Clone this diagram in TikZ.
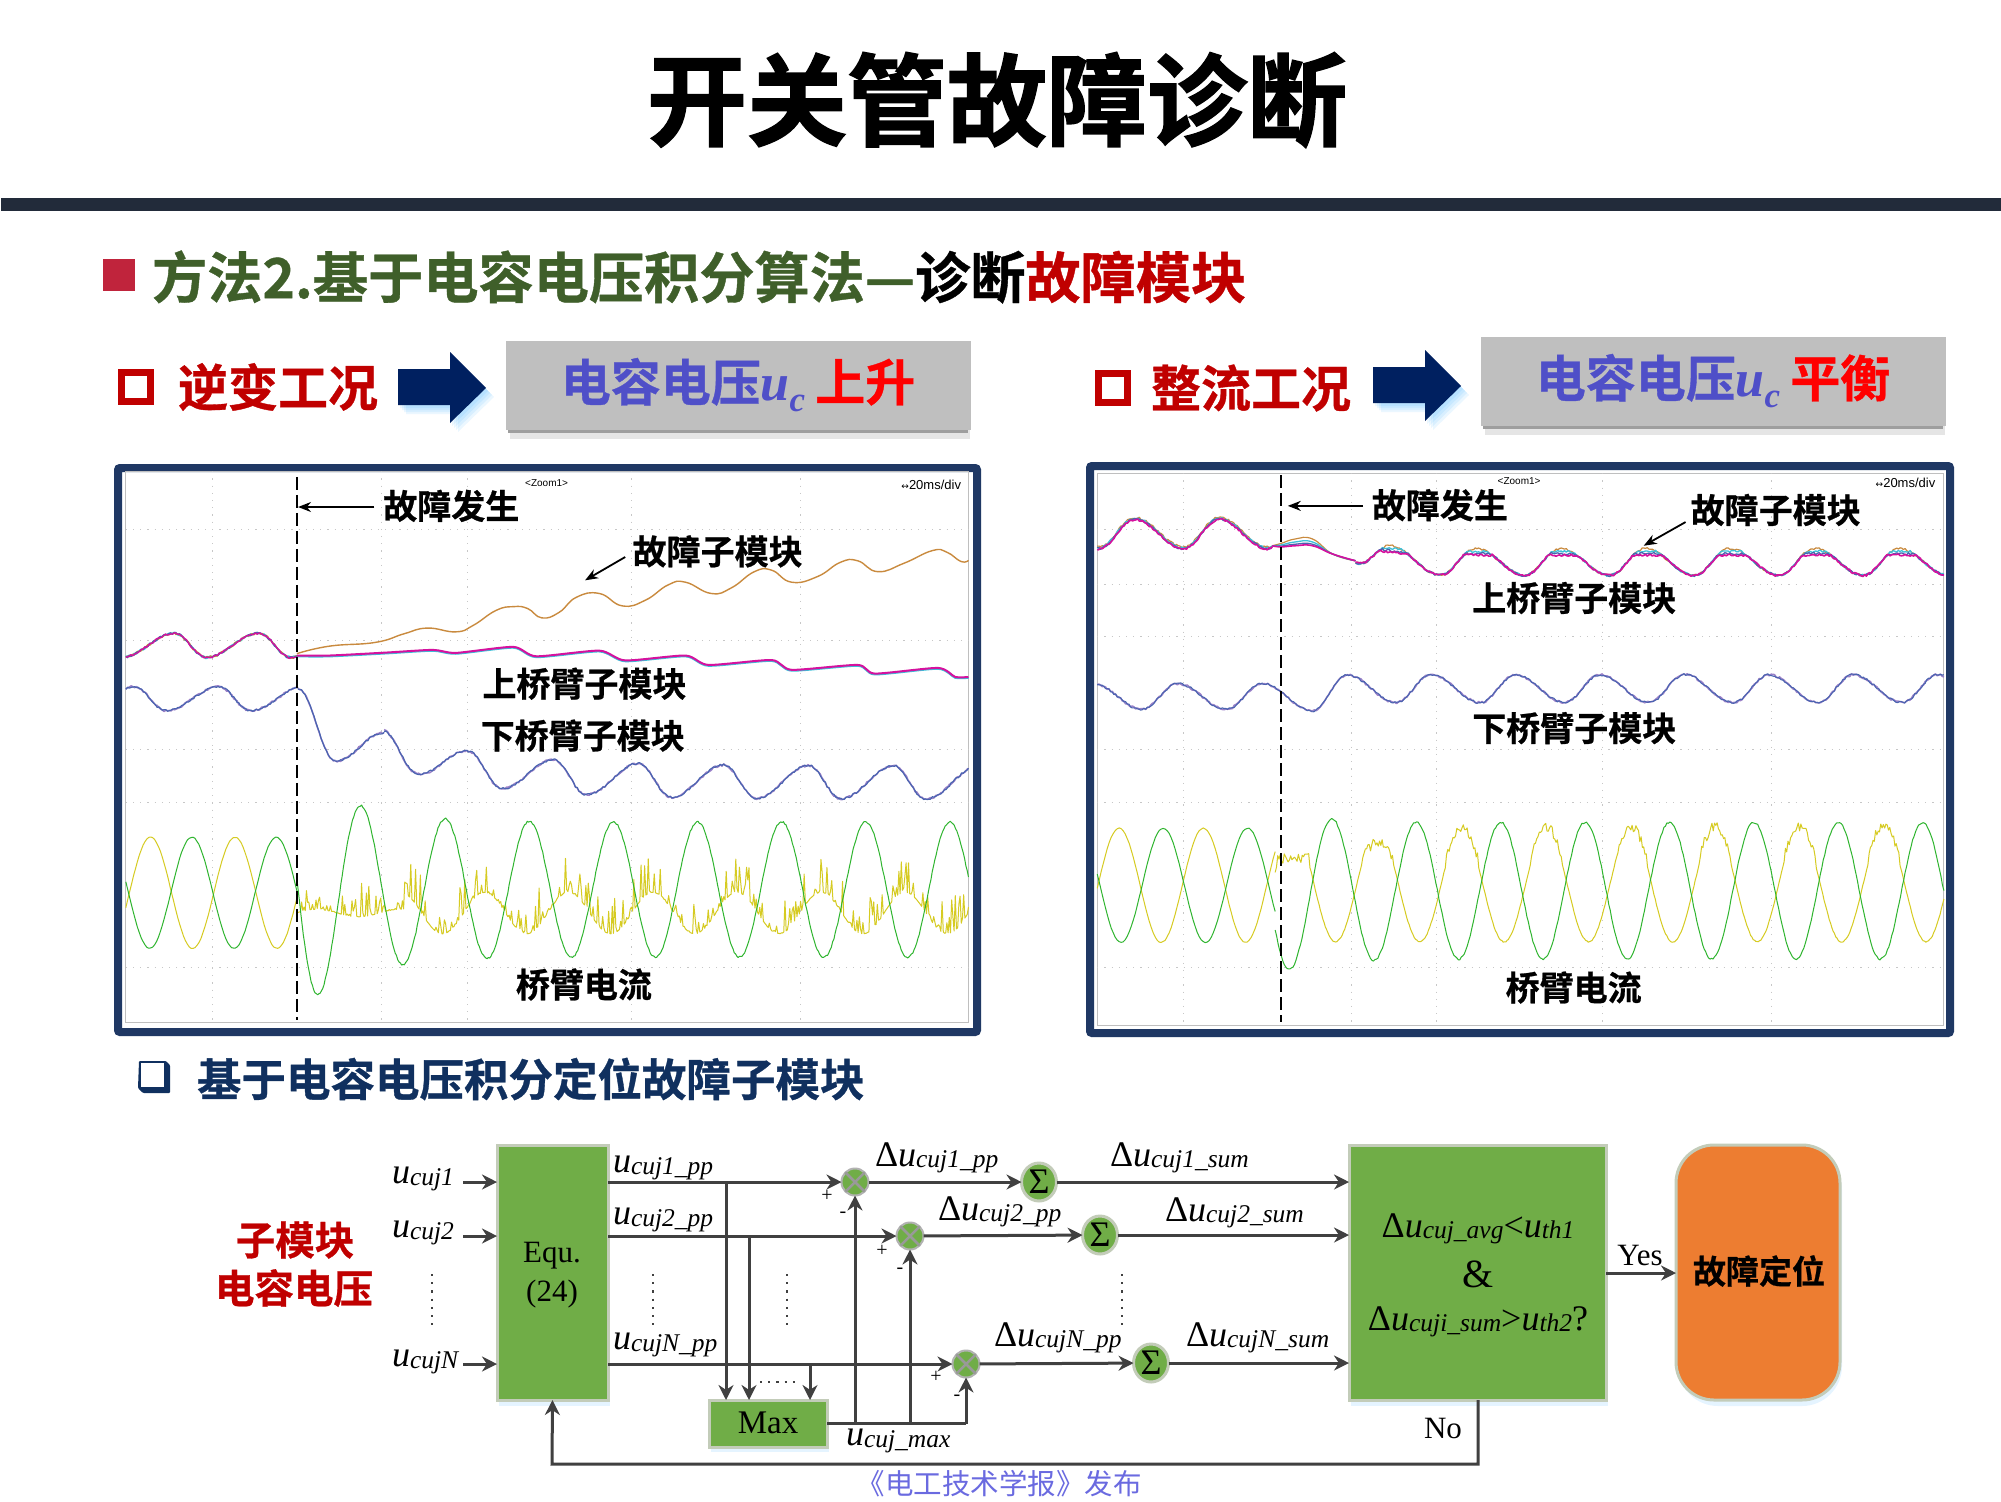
\documentclass[tikz,border=0pt]{standalone}
\usepackage{fontspec}
\setmainfont{Liberation Serif}
\newfontfamily\cjkb[FakeBold=0.7]{Noto Sans CJK SC Bold}
\newfontfamily\cjkh[FakeBold=1.5]{Noto Sans CJK SC Bold}
\newfontfamily\cjkr{Noto Sans CJK SC}
\newfontfamily\sansr{Liberation Sans}
\newfontfamily\dejav{DejaVu Sans}
\usetikzlibrary{arrows.meta,shapes.geometric}
\definecolor{framec}{HTML}{1F3864}
\definecolor{navy}{HTML}{002060}
\definecolor{subc}{HTML}{10305F}
\definecolor{linec}{HTML}{404040}
\definecolor{boxg}{HTML}{70AD47}
\definecolor{boxb}{HTML}{C3CCB9}
\definecolor{orangeb}{HTML}{ED7D31}
\definecolor{darkred}{HTML}{C00000}
\definecolor{headg}{HTML}{3F5F2A}
\definecolor{blueb}{HTML}{4F4FC8}
\definecolor{pubc}{HTML}{6A6AE0}
\definecolor{wgreen}{HTML}{2FB52F}
\definecolor{wyellow}{HTML}{D6CB22}
\definecolor{worange}{HTML}{C98A3E}
\definecolor{wmag}{HTML}{D5119E}
\definecolor{wcyan}{HTML}{3CC0D8}
\definecolor{wblue}{HTML}{4A64B0}
\definecolor{wpur}{HTML}{9A80C8}
\definecolor{rulec}{HTML}{222B3A}
\definecolor{bulletc}{HTML}{C0243C}
\newcommand\fs[1]{\fontsize{#1}{#1}\selectfont}
\newcommand\ulab[2][u]{{\fs{36}\textit{#1}}\raisebox{-0.3ex}{\fs{25.5}\textit{#2}}}
\newcommand\uclab{{\fontspec{Liberation Serif}\bfseries\itshape\fs{52}u\raisebox{-.45ex}{\fs{35}c}}}
\tikzset{
  every node/.style={inner sep=0pt,outer sep=0pt},
  plotframe/.style={draw=framec,line width=8pt,rounded corners=2pt,fill=white},
  plotin/.style={draw=black!25,line width=1pt},
  griddot/.style={draw=black!22,line width=.8pt,dash pattern=on 1.2pt off 6pt},
  fault/.style={draw=black,line width=2pt,dash pattern=on 13pt off 5pt},
  notearr/.style={draw=black,line width=1.8pt,-{Stealth[length=13pt,width=10pt]}},
  plotlab/.style={font=\cjkb\fs{34},text=black},
  tiny1/.style={font=\sansr\fs{10}},
  wave/.style={line width=1pt,line join=round},
  noisy/.style={line width=1.5pt,line join=round},
  conn/.style={draw=linec,line width=3pt},
  connarr/.style={conn,-{Stealth[length=15pt,width=15pt]}},
  gbox/.style={draw=boxb,line width=3pt,fill=boxg,rectangle,anchor=north west},
  mult/.style={draw=black!30,line width=2pt,fill=boxg,circle,minimum size=27pt},
  sumn/.style={draw=boxb,line width=3pt,fill=boxg,ellipse,minimum width=35pt,minimum height=38pt,font=\fs{36}},
  lab/.style={text=black},
  vdots/.style={draw=linec,line width=2.2pt,dash pattern=on 2.2pt off 6pt},
  sign/.style={font=\fs{20}},
  graybox/.style={fill=black!25,rectangle,anchor=north west},
  condlab/.style={font=\cjkb\fs{50}},
  bigarrow/.style={fill=navy},
  arrshadow/.style={fill=blue!40!cyan,opacity=.08},
}
\pgfmathsetseed{2024}
\begin{document}
\begin{tikzpicture}[x=1pt,y=-1pt,
  declare function={
    gl(\x)=1140-(180+150*exp(-(\x-343)/90))*cos(2.4573*(\x-455));
    ypost(\x)=1205-((\x>530)?55:10)*cos(2.4573*(\x-670))-100*pow(rnd,6);
    sg(\x)=cos(2.449*(\x-518.5));
    yrp(\x)=(sg(\x)>0.4)?(1070-((\x>450)?((\x>600)?85:40):0)*(sg(\x)-0.4)/0.6-26*rnd):(1130-150*sg(\x));
    asyma(\p)=(\p<.375)?cos(480*\p):(0-cos(288*(\p-.375)));
    asymb(\p)=(\p<.58)?cos(310.3*\p):(0-cos(428.6*(\p-.58)));
    ru(\x,\k)=max(\k,268-36*asymb(mod(\x+48,147.5)/147.5))-35*exp(-(\x-480)/40);
  }]
\useasboundingbox (0,0) rectangle (2001,1501);
\fill[white] (0,0) rectangle (2001,1501);
% title
\node[font=\cjkh\fs{100},text=black] (title) at (997,100) {开关管故障诊断};
\fill[rulec] (1,198) rectangle (2001,211);
% heading
\fill[bulletc] (103,259) rectangle (135,291);
\node[anchor=west,font=\cjkb\fs{55.2}] (head) at (152,277) {\textcolor{headg}{方法2.基于电容电压积分算法—}\textcolor{black}{诊断}\textcolor{darkred}{故障模块}};
% left condition
\draw[darkred,line width=7pt] (121,372) rectangle (150,401);
\node[condlab,text=darkred,anchor=west] (cl) at (178,387) {逆变工况};
\foreach \d in {2,4,6,8}{\fill[arrshadow,shift={(\d,\d+1)}] (398,369) -- (450,369) -- (450,352) -- (486,388) -- (450,423) -- (450,405) -- (398,405) -- cycle;}
\fill[bigarrow] (398,369) -- (450,369) -- (450,352) -- (486,388) -- (450,423) -- (450,405) -- (398,405) -- cycle;
\fill[black!10] (510,425) rectangle (970,439);
\fill[black!38] (508,420) rectangle (968,433);
\node[graybox,minimum width=465pt,minimum height=89pt] (bl) at (506,341) {};
\node[anchor=center,font=\cjkb\fs{50}] (blt) at (738,385) {\textcolor{blueb}{电容电压\uclab}\hspace{10pt}\textcolor{red}{上升}};
% right condition
\draw[darkred,line width=7pt] (1098,373) rectangle (1127,402);
\node[condlab,text=darkred,anchor=west] (cr) at (1151,388) {整流工况};
\foreach \d in {2,4,6,8}{\fill[arrshadow,shift={(\d,\d+1)}] (1373,367) -- (1425,367) -- (1425,350) -- (1461,386) -- (1425,421) -- (1425,403) -- (1373,403) -- cycle;}
\fill[bigarrow] (1373,367) -- (1425,367) -- (1425,350) -- (1461,386) -- (1425,421) -- (1425,403) -- (1373,403) -- cycle;
\fill[black!10] (1485,421) rectangle (1945,435);
\fill[black!38] (1483,416) rectangle (1943,429);
\node[graybox,minimum width=465pt,minimum height=89pt] (br) at (1481,337) {};
\node[anchor=center,font=\cjkb\fs{50}] (brt) at (1713,381) {\textcolor{blueb}{电容电压\uclab}\hspace{10pt}\textcolor{red}{平衡}};
% ---------- left plot
\draw[plotframe] (118,468) rectangle (977,1032);
\begin{scope}[shift={(100,460)},x=0.574pt,y=-0.376pt]
\draw[plotin] (45,30) rectangle (1513,1497);
\foreach \yy in {185,480,770,910,1350}{\draw[griddot] (45,\yy) -- (1513,\yy);}
\foreach \xx in {195,490,640,925,1220}{\draw[griddot] (\xx,30) -- (\xx,1497);}
\node[tiny1] (zl) at (778,62) {<Zoom1>};
\node[tiny1,anchor=east,font=\sansr\fs{13}] (dl) at (1500,65) {\dejav\fs{9}↔\sansr\fs{13}20ms/div};
% currents
\draw[wave,wyellow] plot[domain=45:343,samples=90] (\x,{1150-148*cos(2.449*(\x-88))+2*rnd});
\draw[wave,wyellow] plot[domain=345:1513,samples=560] (\x,{ypost(\x)});
\draw[wave,wgreen] plot[domain=45:343,samples=90] (\x,{1150-148*cos(2.449*(\x-160))+2*rnd});
\draw[wave,wgreen] plot[domain=343:1513,samples=520] (\x,{gl(\x)+5*rnd});
% lower arm traces
\foreach \cc/\lw in {wpur/1.5,wblue/1.2}{
\draw[noisy,\cc,line width=\lw pt] plot[domain=45:345,samples=100] (\x,{632-32*asyma(mod(\x+528,147)/147)+6*rnd});
\draw[noisy,\cc,line width=\lw pt] plot[domain=345:410,samples=22] (\x,{606+96*(1-cos(2.77*(\x-345)))+4*rnd});
\draw[noisy,\cc,line width=\lw pt] plot[domain=410:495,samples=28] (\x,{798-38*(1-cos(2.118*(\x-410)))+6*rnd});
\draw[noisy,\cc,line width=\lw pt] plot[domain=495:1513,samples=340] (\x,{855-95*exp(-(\x-495)/170)-44*asyma(mod(\x+541,148)/148)+6*rnd});
}
% orange
\draw[wave,worange,line width=1.4pt] plot[smooth,tension=.8] coordinates {(343,515)(400,495)(480,485)(530,462)(570,447)(620,457)(650,440)(690,400)(720,390)(745,395)(770,420)(800,405)(830,365)(870,355)(910,388)(950,373)(990,332)(1020,325)(1065,355)(1100,340)(1140,297)(1170,293)(1205,325)(1250,310)(1290,272)(1320,268)(1355,297)(1400,275)(1450,241)(1475,245)(1500,270)(1513,267)};
% upper arm traces
\draw[line width=2.2pt,wcyan] plot[smooth,tension=.4] coordinates {(343,522)(400,522)(500,514)(580,507)(620,515)(720,499)(760,524)(870,509)(915,535)(1020,522)(1060,547)(1170,534)(1205,560)(1320,547)(1350,570)(1460,555)(1490,579)(1513,579)};
\draw[line width=2pt,wmag] plot[smooth,tension=.4] coordinates {(343,520)(400,520)(500,512)(580,505)(620,513)(720,497)(760,522)(870,507)(915,533)(1020,520)(1060,545)(1170,532)(1205,558)(1320,545)(1350,568)(1460,553)(1490,577)(1513,577)};
\foreach \cc/\lw in {wcyan/1.4,worange/1.4,wblue/1.2,wmag/1.3}{
\draw[noisy,\cc,line width=\lw pt] plot[domain=45:343,samples=100] (\x,{490-32*asyma(mod(\x+458,147)/147)+6*rnd});
}
% fault
\coordinate (lft) at (343,45);\coordinate (lfb) at (343,1490);
\draw[fault] (lft) -- (lfb);
\node[plotlab] (l1) at (612,122) {故障发生};
\coordinate (l1t) at (345,125);\coordinate (l1f) at (478,125);
\draw[notearr] (l1f) -- (l1t);
\node[plotlab] (l2) at (1076,243) {故障子模块};
\coordinate (l2t) at (845,320);\coordinate (l2f) at (915,258);
\draw[notearr] (l2f) -- (l2t);
\node[plotlab] (l3) at (844,595) {上桥臂子模块};
\node[plotlab] (l4) at (841,733) {下桥臂子模块};
\node[plotlab] (l5) at (843,1395) {桥臂电流};
\end{scope}
% ---------- right plot
\draw[plotframe] (1090,466) rectangle (1950,1033);
\begin{scope}[shift={(1080,460)},x=0.574pt,y=-0.376pt]
\draw[plotin] (30,35) rectangle (1505,1503);
\foreach \yy in {185,330,470,770,910,1350}{\draw[griddot] (30,\yy) -- (1505,\yy);}
\foreach \xx in {180,472,620,910,1205}{\draw[griddot] (\xx,35) -- (\xx,1503);}
\node[tiny1] (zr) at (765,57) {<Zoom1>};
\node[tiny1,anchor=east,font=\sansr\fs{13}] (dr) at (1490,60) {\dejav\fs{9}↔\sansr\fs{13}20ms/div};
% currents
\draw[wave,wyellow] plot[domain=30:340,samples=90] (\x,{1130-152*cos(2.449*(\x-68))+2*rnd});
\draw[wave,wyellow] plot[domain=340:1505,samples=520] (\x,{yrp(\x)+3*rnd});
\draw[wave,wgreen] plot[domain=30:340,samples=90] (\x,{1130-152*cos(2.449*(\x-145))+2*rnd});
\draw[wave,wgreen] plot[domain=340:1505,samples=450] (\x,{1143-(182+40*exp(-(\x-340)/70))*cos(2.449*(\x-145))+5*rnd});
% lower arm traces
\foreach \cc/\lw in {wpur/1.6,wblue/1.1}{
\draw[noisy,\cc,line width=\lw pt] plot[domain=30:318,samples=100] (\x,{626-34*asymb(mod(\x+124,147)/147)+6*rnd});
\draw[noisy,\cc,line width=\lw pt] plot[domain=318:405,samples=30] (\x,{592+36.5*(1-cos(2.069*(\x-318)))+5*rnd});
\draw[noisy,\cc,line width=\lw pt] plot[domain=405:465,samples=20] (\x,{665-47.5*(1-cos(3*(\x-405)))+5*rnd});
\draw[noisy,\cc,line width=\lw pt] plot[domain=465:1505,samples=350] (\x,{605-37*asymb(mod(\x+123,147)/147)+6*rnd});
}
% upper arm traces
\foreach \pk/\cc/\lw in {0/worange/1.2,8/wcyan/1.3,14/wblue/1.3,18/wmag/1.6}{
\draw[noisy,\cc,line width=\lw pt] plot[domain=30:335,samples=105] (\x,{189-39*asymb(mod(\x+346,147)/147)+\pk*.3+6*rnd});
\draw[\cc,line width=\lw pt,line join=round] plot[smooth,tension=.8] coordinates {(335,228)(350,{222+\pk*.5})(375,{210+\pk})(405,{210+\pk})(440,250)(480,268)};
\draw[noisy,\cc,line width=\lw pt] plot[domain=480:1505,samples=350] (\x,{ru(\x,232+\pk)+6*rnd});
}
% fault
\coordinate (rft) at (350,40);\coordinate (rfb) at (350,1495);
\draw[fault] (rft) -- (rfb);
\node[plotlab] (r1) at (627,120) {故障发生};
\coordinate (r1t) at (362,122);\coordinate (r1f) at (493,122);
\draw[notearr] (r1f) -- (r1t);
\node[plotlab] (r2) at (1212,133) {故障子模块};
\coordinate (r2t) at (982,228);\coordinate (r2f) at (1055,165);
\draw[notearr] (r2f) -- (r2t);
\node[plotlab] (r3) at (861,367) {上桥臂子模块};
\node[plotlab] (r4) at (861,713) {下桥臂子模块};
\node[plotlab] (r5) at (860,1403) {桥臂电流};
\end{scope}
% ---------- lower heading
\fill[subc,rounded corners=1pt] (139,1061) -- (166,1061) -- (170,1065) -- (170,1093) -- (143,1093) -- (138,1088) -- cycle;
\fill[white] (141,1063) rectangle (164,1087);
\node[anchor=west,font=\cjkb\fs{44.5},text=subc] (sub) at (197,1079) {基于电容电压积分定位故障子模块};
% ---------- block diagram
\node[font=\cjkb\fs{39.5},text=darkred] (smv1) at (295,1240) {子模块};
\node[font=\cjkb\fs{39.5},text=darkred] (smv2) at (294,1288) {电容电压};
\foreach \a/\b/\c/\d in {497/1145/608/1406,709/1400/827/1452,1349/1145/1606/1406}{\fill[blue!40!cyan,opacity=.1] (\a+2,\b) rectangle (\c+2,\d);}
\fill[blue!40!cyan,opacity=.1,rounded corners=40pt] (1678,1150) rectangle (1842,1406);
\node[gbox,minimum width=111pt,minimum height=255pt] (equ) at (497,1145) {};
\node[font=\fs{31},align=center] (equt) at (552,1275) {Equ.\\[8pt](24)};
\node[gbox,minimum width=118pt,minimum height=47pt] (maxb) at (709,1400) {};
\node[font=\fs{33}] (maxt) at (768,1423) {Max};
\node[gbox,minimum width=257pt,minimum height=255pt] (dec) at (1349,1145) {};
\node[draw=boxb,line width=3pt,fill=orangeb,rounded corners=38pt,minimum width=164pt,minimum height=255pt,anchor=north west] (loc) at (1676,1145) {};
\node[font=\cjkb\fs{33}] (loct) at (1759,1271) {故障定位};
% signal nodes
\node[mult] (m1) at (855,1182) {};
\node[mult] (m2) at (910,1236) {};
\node[mult] (mN) at (966,1364) {};
\foreach \m in {m1,m2,mN}{\draw[black!40,line width=2.5pt] (\m.north west) -- (\m.south east) (\m.north east) -- (\m.south west);}
\node[sumn] (s1) at (1039,1182) {Σ};
\node[sumn] (s2) at (1100,1235) {Σ};
\node[sumn] (sN) at (1151,1363) {Σ};
% connectors
\coordinate (i1) at (463,1182);\coordinate (i2) at (463,1236);\coordinate (iN) at (463,1364);
\draw[connarr] (i1) -- (i1-|equ.west);
\draw[connarr] (i2) -- (i2-|equ.west);
\draw[connarr] (iN) -- (iN-|equ.west);
\draw[connarr] (equ.east|-m1) -- (m1);
\draw[connarr] (equ.east|-m2) -- (m2);
\draw[connarr] (equ.east|-mN) -- (mN);
\coordinate (t1) at (726,1182);\coordinate (t2) at (749,1236);\coordinate (t3) at (810,1364);
\draw[connarr] (t1) -- (t1|-maxb.north);
\draw[connarr] (t2) -- (t2|-maxb.north);
\draw[connarr] (t3) -- (t3|-maxb.north);
\coordinate (mo) at (maxb.east);
\draw[conn] (mo) -- (mo-|mN);
\draw[connarr] (mo-|m1) -- (m1);
\draw[connarr] (mo-|m2) -- (m2);
\draw[connarr] (mo-|mN) -- (mN);
\draw[connarr] (m1) -- (s1);
\draw[connarr] (m2) -- (s2);
\draw[connarr] (mN) -- (sN);
\draw[connarr] (s1) -- (s1-|dec.west);
\draw[connarr] (s2) -- (s2-|dec.west);
\draw[connarr] (sN) -- (sN-|dec.west);
\coordinate (yo) at (1606,1273);
\draw[connarr] (yo) -- (yo-|loc.west);
\coordinate (nc) at (1478,1464);
\draw[connarr] (nc|-dec.south) -- (nc) -- (552,1464) -- (equ.south);
% labels
\node[lab,anchor=west] (u1) at (392,1179) {\ulab{cuj1}};
\node[lab,anchor=west] (u2) at (392,1233) {\ulab{cuj2}};
\node[lab,anchor=west] (uN) at (392,1362) {\ulab{cujN}};
\node[lab,anchor=west] (p1) at (613,1168) {\ulab{cuj1\_pp}};
\node[lab,anchor=west] (p2) at (613,1220) {\ulab{cuj2\_pp}};
\node[lab,anchor=west] (pN) at (613,1345) {\ulab{cujN\_pp}};
\node[lab,anchor=west] (d1) at (875,1158) {{\fs{36}Δ}\ulab{cuj1\_pp}};
\node[lab,anchor=west] (d2) at (938,1212) {{\fs{36}Δ}\ulab{cuj2\_pp}};
\node[lab,anchor=west] (dN) at (994,1338) {{\fs{36}Δ}\ulab{cujN\_pp}};
\node[lab,anchor=west] (e1) at (1110,1158) {{\fs{36}Δ}\ulab{cuj1\_sum}};
\node[lab,anchor=west] (e2) at (1165,1213) {{\fs{36}Δ}\ulab{cuj2\_sum}};
\node[lab,anchor=west] (eN) at (1186,1338) {{\fs{36}Δ}\ulab{cujN\_sum}};
\node[lab,anchor=west] (mx) at (846,1441) {\ulab{cuj\_max}};
\node[lab] (c1) at (1478,1229) {{\fs{36}Δ}\ulab{cuj\_avg}{\fs{36}<}\ulab{th1}};
\node[lab,font=\fs{40}] (c2) at (1478,1274) {\&};
\node[lab] (c3) at (1478,1322) {{\fs{36}Δ}\ulab{cuji\_sum}{\fs{36}>}\ulab{th2}{\fs{36}?}};
\node[lab,font=\fs{31}] (yes) at (1640,1255) {Yes};
\node[lab,font=\fs{31}] (no) at (1443,1428) {No};
\node[sign] (sp1) at (827,1196) {+};\node[sign] (sm1) at (843,1215) {-};
\node[sign] (sp2) at (882,1251) {+};\node[sign] (sm2) at (900,1271) {-};
\node[sign] (spN) at (936,1377) {+};\node[sign] (smN) at (957,1398) {-};
% dots
\coordinate (v1a) at (432,1274);\coordinate (v1b) at (432,1327);
\coordinate (v2a) at (653,1274);\coordinate (v2b) at (653,1327);
\coordinate (v3a) at (787,1274);\coordinate (v3b) at (787,1327);
\coordinate (v4a) at (1122,1274);\coordinate (v4b) at (1122,1327);
\draw[vdots] (v1a) -- (v1b);\draw[vdots] (v2a) -- (v2b);\draw[vdots] (v3a) -- (v3b);\draw[vdots] (v4a) -- (v4b);
\coordinate (ha) at (760,1382);\coordinate (hb) at (800,1382);
\draw[vdots] (ha) -- (hb);
% publisher
\node[font=\cjkr\fs{28.5},text=pubc] (pub) at (999,1484) {《电工技术学报》发布};
\end{tikzpicture}
\end{document}
